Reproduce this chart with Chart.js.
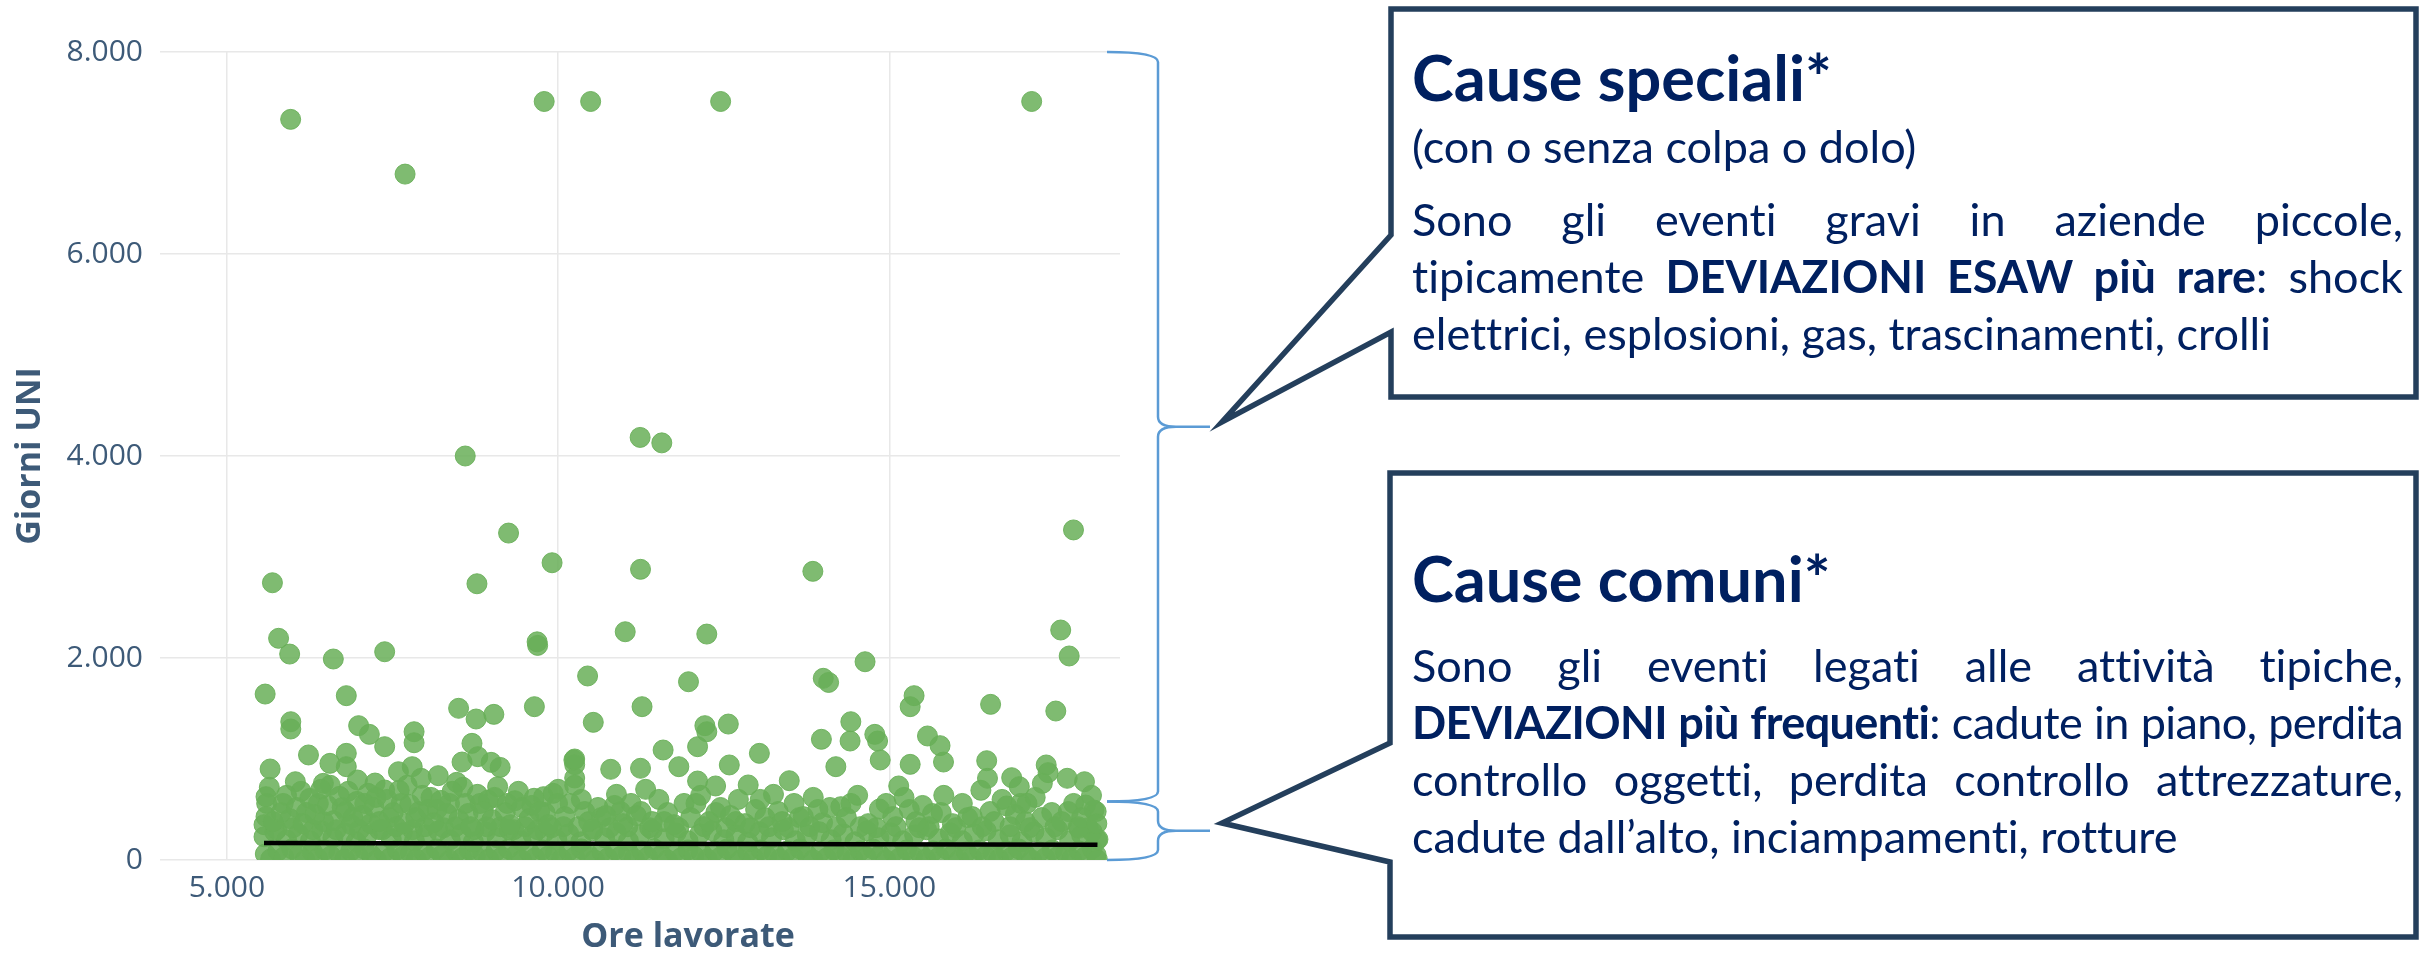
<!DOCTYPE html>
<html lang="it">
<head>
  <meta charset="UTF-8">
  <title>Giorni UNI e ore lavorate</title>
  <script src="https://cdn.jsdelivr.net/npm/chart.js"></script>
  <style>
    html, body {
      margin: 0;
      padding: 0;
      background: #ffffff;
      overflow: hidden;
    }

    #wrap {
      position: relative;
      width: 2422px;
      height: 956px;
    }

    .note {
      position: absolute;
      left: 1412px;
      width: 991px;
      font-family: 'Lato', sans-serif;
      font-size: 45px;
      color: #002060;
      font-variant-ligatures: none;
    }

    .note .title {
      font-weight: 700;
      font-size: 63px;
      line-height: 60px;
    }

    .note .line {
      position: relative;
      line-height: 57px;
      text-align: justify;
      text-align-last: justify;
    }

    .note .line.last {
      text-align: left;
      text-align-last: left;
    }

    .note b { font-weight: 700; }

    .probe {
      position: absolute;
      left: 0;
      top: 0;
      visibility: hidden;
      white-space: nowrap;
      letter-spacing: normal;
    }
  </style>
</head>
<body>

<div id="wrap">
  <canvas id="scatterChart"></canvas>

  <div class="note" style="top:47px">
    <div class="title">Cause speciali*</div>
  </div>
  <div class="note" style="top:118px">
    <div class="line last">(con o senza colpa o dolo)</div>
  </div>
  <div class="note" style="top:191px">
    <div class="line">Sono gli eventi gravi in aziende piccole,</div>
    <div class="line">tipicamente <b>DEVIAZIONI ESAW più rare</b>: shock</div>
    <div class="line last">elettrici, esplosioni, gas, trascinamenti, crolli</div>
  </div>

  <div class="note" style="top:548px">
    <div class="title">Cause comuni*</div>
  </div>
  <div class="note" style="top:637px">
    <div class="line">Sono gli eventi legati alle attività tipiche,</div>
    <div class="line"><b>DEVIAZIONI più frequenti</b>: cadute in piano, perdita</div>
    <div class="line">controllo oggetti, perdita controllo attrezzature,</div>
    <div class="line last">cadute dall’alto, inciampamenti, rotture</div>
  </div>
</div>

<script>
  // [ore lavorate, giorni UNI]
  const rareEvents = [
    [5962, 7333], [7689, 6791], [9789, 7510], [10490, 7510], [12452, 7510], [17147, 7510],
    [8597, 4000], [11237, 4184], [11564, 4130], [9251, 3237], [9908, 2943], [5687, 2745],
    [8774, 2735], [11243, 2878], [13844, 2858], [17778, 3268],
    [5780, 2195], [5947, 2039], [6606, 1990], [7381, 2062], [9682, 2160], [9690, 2125],
    [11012, 2260], [12243, 2237], [17585, 2277], [17713, 2020],
    [5577, 1643], [6802, 1627], [10444, 1822], [14632, 1963], [11967, 1765], [14001, 1799],
    [14082, 1758], [11266, 1518], [8497, 1502], [9641, 1518], [15372, 1627], [15313, 1518],
    [16527, 1541], [17511, 1475],
    [5964, 1369], [5964, 1297], [6988, 1330], [7150, 1244], [7381, 1122], [8761, 1396],
    [9029, 1442], [10530, 1363], [7825, 1270], [7825, 1161], [8699, 1155], [8786, 1023],
    [10249, 1000], [12214, 1330], [12243, 1270], [12568, 1346], [14417, 1369], [14779, 1244],
    [14821, 1178], [13973, 1195], [14406, 1178], [15574, 1228], [15764, 1132], [13037, 1056],
    [11584, 1089], [12104, 1122]
  ];

  const midEvents = [
    [8549, 970], [8988, 967], [9124, 917], [10249, 944], [10249, 812], [10249, 740],
    [5652, 901], [6231, 1040], [6555, 957], [6802, 1056], [6802, 924], [6970, 792],
    [7797, 924], [8190, 835], [8468, 769], [7589, 874], [7931, 809], [6033, 775],
    [6456, 759], [5590, 627], [5590, 429], [7236, 762], [7381, 693], [8943, 594],
    [9086, 726], [9346, 587], [9636, 611], [9780, 627], [9925, 660],
    [15816, 970], [14861, 990], [15313, 947], [16468, 983], [11821, 924], [12583, 941],
    [11243, 908], [10793, 898], [10237, 990], [14191, 924], [13488, 785], [12104, 782],
    [12376, 733], [12868, 743], [15140, 733], [17366, 941], [17395, 865], [17308, 759],
    [17683, 809], [17944, 775], [16845, 815], [16960, 726], [16480, 809], [17076, 561],
    [16769, 535], [17961, 544], [18088, 495], [17857, 314], [18147, 205], [14849, 505],
    [14266, 528],
    [5600, 560], [5700, 380], [5820, 470], [5900, 640], [6050, 520], [6150, 360],
    [6250, 610], [6330, 450], [6420, 700], [6520, 540], [6610, 390], [6700, 630],
    [6790, 480], [6880, 350], [6960, 580], [7050, 440], [7130, 660], [7220, 520],
    [7300, 380], [7420, 600], [7510, 470], [7600, 690], [7680, 360], [7760, 550],
    [7850, 420], [7950, 640], [8040, 500], [8120, 370], [8230, 590], [8320, 460],
    [8400, 680], [8500, 400], [8600, 560], [8680, 330], [8780, 650], [8870, 480],
    [9000, 400], [9200, 470], [9280, 350], [9450, 520], [9560, 410], [9720, 480],
    [9850, 350], [9990, 560], [10100, 430], [10350, 600], [10460, 380], [10600, 520],
    [10720, 440], [10880, 650], [10980, 360], [11100, 560], [11180, 440], [11320, 700],
    [11420, 380], [11520, 600], [11650, 470], [11750, 350], [11900, 560], [12000, 420],
    [12150, 640], [12280, 380], [12450, 520], [12600, 440], [12720, 600], [12820, 360],
    [12980, 500], [13120, 420], [13250, 650], [13380, 380], [13560, 560], [13700, 430],
    [13850, 620], [13990, 370], [14100, 520], [14350, 420], [14520, 640], [14680, 360],
    [14950, 560], [15050, 430], [15220, 620], [15400, 380], [15500, 540], [15650, 460],
    [15820, 640], [15950, 360], [16100, 560], [16250, 430], [16380, 690], [16580, 380],
    [16700, 600], [16900, 450], [17050, 380], [17200, 620], [17450, 470], [17600, 380],
    [17780, 560], [17900, 420], [18050, 640], [18130, 360]
  ];

  const crowdEvents = [
    [5560, 350], [5640, 720], [5750, 300], [5850, 560], [5950, 410], [6000, 320],
    [6120, 680], [6200, 470], [6300, 300], [6380, 560], [6460, 380], [6560, 740],
    [6650, 300], [6740, 520], [6830, 680], [6900, 420], [7000, 300], [7080, 560],
    [7170, 360], [7250, 620], [7350, 300], [7450, 420], [7550, 330], [7630, 560],
    [7720, 740], [7800, 300], [7900, 480], [7990, 330], [8080, 620], [8170, 500],
    [8270, 320], [8360, 560], [8450, 330], [8560, 720], [8640, 460], [8730, 300],
    [8820, 560], [8920, 330], [9040, 620], [9130, 330], [9230, 560], [9330, 300],
    [9400, 680], [9500, 330], [9600, 540], [9690, 300], [9800, 470], [9900, 320],
    [10000, 700], [10080, 330], [10180, 560], [10300, 330], [10400, 480], [10520, 310],
    [10650, 420], [10780, 320], [10850, 540], [10940, 480],
    [11050, 330], [11250, 480], [11380, 320], [11600, 380], [11820, 320], [12080, 560],
    [12200, 330], [12380, 470], [12530, 320], [12680, 380], [12900, 320], [13050, 600],
    [13180, 330], [13320, 480], [13480, 320], [13640, 420], [13800, 330], [13920, 500],
    [14200, 330], [14420, 560], [14560, 330], [14800, 320], [15100, 330], [15300, 500],
    [15450, 320], [15600, 330], [15780, 470], [16000, 320], [16180, 420], [16400, 330],
    [16520, 480], [16820, 330], [16980, 560], [17120, 320], [17300, 420], [17500, 330],
    [17700, 480], [17850, 330], [18000, 320], [18120, 480]
  ];

  const baseEventsHigh = [
    [5560, 230], [5720, 280], [5900, 200], [6080, 260], [6260, 190], [6430, 290],
    [6600, 220], [6780, 270], [6950, 180], [7120, 250], [7300, 300], [7480, 210],
    [7650, 270], [7830, 190], [8010, 250], [8190, 290], [8370, 200], [8540, 260],
    [8720, 180], [8900, 280], [9080, 220], [9260, 300], [9440, 190], [9620, 250],
    [9800, 280], [9980, 200], [10160, 260], [10340, 180], [10520, 290], [10700, 220],
    [10880, 270], [11060, 190], [11240, 250], [11420, 300], [11600, 210], [11780, 270],
    [11960, 190], [12140, 260], [12320, 290], [12500, 200], [12680, 250], [12860, 180],
    [13040, 280], [13220, 220], [13400, 300], [13580, 190], [13760, 250], [13940, 280],
    [14120, 200], [14300, 260], [14480, 180], [14660, 290], [14840, 220], [15020, 270],
    [15200, 190], [15380, 250], [15560, 300], [15740, 210], [15920, 270], [16100, 190],
    [16280, 260], [16460, 290], [16640, 200], [16820, 250], [17000, 180], [17180, 280],
    [17360, 220], [17540, 300], [17720, 190], [17900, 250], [18060, 280], [18130, 200]
  ];

  const baseEventsLow = [
    [5580, 60], [5660, 10], [5770, 90], [5860, 30], [5980, 110], [6090, 50], [6180, 0],
    [6290, 80], [6370, 20], [6480, 100], [6570, 40], [6690, 70], [6780, 10], [6870, 90],
    [6990, 30], [7070, 110], [7180, 50], [7260, 0], [7370, 80], [7460, 20], [7570, 100],
    [7660, 40], [7770, 70], [7860, 10], [7960, 90], [8060, 30], [8160, 110], [8250, 50],
    [8360, 0], [8460, 80], [8550, 20], [8660, 100], [8750, 40], [8860, 70], [8950, 10],
    [9060, 90], [9150, 30], [9250, 110], [9360, 50], [9450, 0], [9560, 80], [9650, 20],
    [9760, 100], [9850, 40], [9960, 70], [10050, 10], [10160, 90], [10250, 30], [10350, 110],
    [10460, 50], [10550, 0], [10660, 80], [10750, 20], [10860, 100], [10950, 40], [11060, 70],
    [11150, 10], [11260, 90], [11350, 30], [11450, 110], [11560, 50], [11650, 0], [11760, 80],
    [11850, 20], [11960, 100], [12050, 40], [12160, 70], [12250, 10], [12360, 90], [12450, 30],
    [12550, 110], [12660, 50], [12750, 0], [12860, 80], [12950, 20], [13060, 100], [13150, 40],
    [13260, 70], [13350, 10], [13460, 90], [13550, 30], [13650, 110], [13760, 50], [13850, 0],
    [13960, 80], [14050, 20], [14160, 100], [14250, 40], [14360, 70], [14450, 10], [14560, 90],
    [14650, 30], [14750, 110], [14860, 50], [14950, 0], [15060, 80], [15150, 20], [15260, 100],
    [15350, 40], [15460, 70], [15550, 10], [15660, 90], [15750, 30], [15850, 110], [15960, 50],
    [16050, 0], [16160, 80], [16250, 20], [16360, 100], [16450, 40], [16560, 70], [16650, 10],
    [16760, 90], [16850, 30], [16950, 110], [17060, 50], [17150, 0], [17260, 80], [17350, 20],
    [17460, 100], [17550, 40], [17660, 70], [17750, 10], [17860, 90], [17950, 30], [18060, 110],
    [18120, 50], [18140, 0]
  ];

  const trendLine = [[5560, 168], [18140, 150]];

  const xTicks = [5000, 10000, 15000];
  const yTicks = [0, 2000, 4000, 6000, 8000];

  // ranges (giorni UNI) marked by the two braces
  const braceRanges = [[0, 580], [580, 8000]];

  const xTitle = 'Ore lavorate';
  const yTitle = 'Giorni UNI';

  const axisColor = '#3d5a78';
  const dotColor = 'rgba(104, 175, 88, 0.85)';

  const fmt = v => String(v).replace(/\B(?=(\d{3})+(?!\d))/g, '.');
  const toPoints = list => list.map(([x, y]) => ({ x, y }));

  function drawBrace(ctx, x0, x1, x2, top, bottom) {
    const mid = (top + bottom) / 2;
    const r = Math.min(10, (bottom - top) / 4);
    ctx.beginPath();
    ctx.moveTo(x0, top);
    ctx.quadraticCurveTo(x1, top, x1, top + r);
    ctx.lineTo(x1, mid - r);
    ctx.quadraticCurveTo(x1, mid, x1 + 18, mid);
    ctx.lineTo(x2, mid);
    ctx.moveTo(x1 + 18, mid);
    ctx.quadraticCurveTo(x1, mid, x1, mid + r);
    ctx.lineTo(x1, bottom - r);
    ctx.quadraticCurveTo(x1, bottom, x0, bottom);
    ctx.stroke();
  }

  function drawCallout(ctx, left, top, right, bottom, attachTop, attachBottom, tipX, tipY) {
    ctx.beginPath();
    ctx.moveTo(left, attachTop);
    ctx.lineTo(left, top);
    ctx.lineTo(right, top);
    ctx.lineTo(right, bottom);
    ctx.lineTo(left, bottom);
    ctx.lineTo(left, attachBottom);
    ctx.lineTo(tipX, tipY);
    ctx.closePath();
    ctx.stroke();
  }

  const notesPlugin = {
    id: 'notes',
    afterDraw(chart) {
      const ctx = chart.ctx;
      const yScale = chart.scales.y;
      const area = chart.chartArea;
      ctx.save();

      // x axis title, sitting a little right of the plot centre as in the slide
      ctx.fillStyle = axisColor;
      ctx.font = "bold 34px 'Open Sans', sans-serif";
      ctx.textAlign = 'center';
      ctx.textBaseline = 'middle';
      ctx.fillText(xTitle, (area.left + area.right) / 2 + 48, 937);

      ctx.strokeStyle = '#5b9bd5';
      ctx.lineWidth = 2.5;
      braceRanges.forEach(([lo, hi]) => {
        drawBrace(ctx, area.right - 13, area.right + 38, area.right + 90,
          yScale.getPixelForValue(hi), yScale.getPixelForValue(lo));
      });
      ctx.strokeStyle = '#243f5c';
      ctx.lineWidth = 5.5;
      ctx.lineJoin = 'miter';
      drawCallout(ctx, 1391, 9, 2416, 397, 235, 332, 1222, 422);
      drawCallout(ctx, 1390, 473, 2416, 937, 743, 862, 1222, 823);
      ctx.restore();
    }
  };

  // tighten a justified line when its natural width does not fit the column
  function fitLines() {
    document.querySelectorAll('.note .line').forEach(line => {
      line.style.letterSpacing = 'normal';
      const probe = document.createElement('span');
      probe.className = 'probe';
      probe.innerHTML = line.innerHTML;
      line.appendChild(probe);
      const natural = probe.getBoundingClientRect().width;
      line.removeChild(probe);
      const limit = line.clientWidth - 6;
      if (natural > limit) {
        const chars = line.textContent.length;
        line.style.letterSpacing = ((limit - natural) / chars).toFixed(2) + 'px';
      }
    });
  }
  fitLines();
  if (document.fonts) document.fonts.ready.then(fitLines);
  window.addEventListener('load', fitLines);

  Chart.defaults.font.family = "'Open Sans', sans-serif";

  const canvas = document.getElementById('scatterChart');
  canvas.width = 2422;
  canvas.height = 956;

  new Chart(canvas.getContext('2d'), {
    type: 'scatter',
    data: {
      datasets: [
        {
          label: 'Trend',
          data: toPoints(trendLine),
          showLine: true,
          borderColor: '#000000',
          borderWidth: 4.5,
          pointRadius: 0,
          order: 0
        },
        {
          label: 'Infortuni',
          data: toPoints([...baseEventsLow, ...baseEventsHigh, ...crowdEvents, ...midEvents, ...rareEvents]),
          backgroundColor: dotColor,
          borderColor: 'rgba(104, 175, 88, 0.9)',
          borderWidth: 1,
          pointRadius: 10,
          clip: { left: 20, right: 20, top: 20, bottom: 0 },
          order: 1
        }
      ]
    },
    options: {
      responsive: false,
      animation: false,
      layout: {
        padding: { left: 0, top: 52, right: 1302, bottom: 0 }
      },
      plugins: {
        legend: { display: false },
        tooltip: { enabled: false }
      },
      scales: {
        x: {
          type: 'linear',
          min: 3990,
          max: 18480,
          afterFit: s => { s.height = 96; },
          afterBuildTicks: s => { s.ticks = xTicks.map(v => ({ value: v })); },
          border: { display: false },
          grid: { color: '#e8e8e8', lineWidth: 1.5, drawTicks: false },
          ticks: {
            padding: 10,
            color: axisColor,
            font: { size: 30 },
            callback: v => fmt(v)
          },
          title: { display: false }
        },
        y: {
          type: 'linear',
          min: 0,
          max: 8000,
          afterFit: s => { s.width = 160; },
          afterBuildTicks: s => { s.ticks = yTicks.map(v => ({ value: v })); },
          border: { display: false },
          grid: { color: '#e8e8e8', lineWidth: 1.5, drawTicks: false },
          ticks: {
            padding: 17,
            color: axisColor,
            font: { size: 30 },
            callback: v => fmt(v)
          },
          title: {
            display: true,
            text: yTitle,
            color: axisColor,
            font: { size: 34, weight: 'bold' },
            padding: { top: 10, bottom: 0 }
          }
        }
      }
    },
    plugins: [notesPlugin]
  });
</script>

</body>
</html>
